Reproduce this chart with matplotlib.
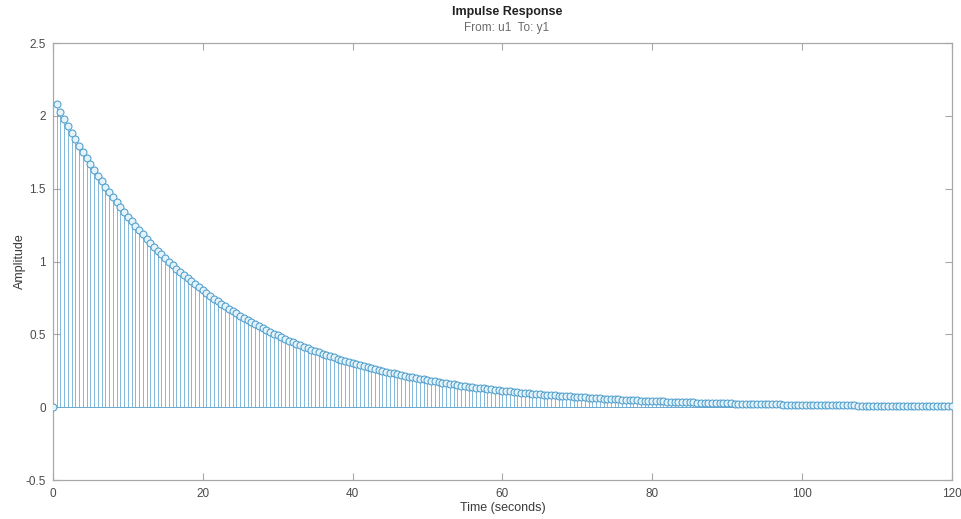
import numpy as np
import matplotlib
matplotlib.use("Agg")
import matplotlib.pyplot as plt

sample_time = 0.5
amplitude = [
    0.0,
    2.079, 2.029, 1.980, 1.932, 1.885, 1.840, 1.796, 1.752, 1.710, 1.669,
    1.629, 1.590, 1.551, 1.514, 1.477, 1.442, 1.407, 1.373, 1.340, 1.308,
    1.276, 1.246, 1.216, 1.186, 1.158, 1.130, 1.103, 1.076, 1.050, 1.025,
    1.000, 0.976, 0.952, 0.930, 0.907, 0.885, 0.864, 0.843, 0.823, 0.803,
    0.784, 0.765, 0.746, 0.728, 0.711, 0.694, 0.677, 0.661, 0.645, 0.629,
    0.614, 0.599, 0.585, 0.571, 0.557, 0.544, 0.531, 0.518, 0.505, 0.493,
    0.481, 0.470, 0.458, 0.447, 0.437, 0.426, 0.416, 0.406, 0.396, 0.386,
    0.377, 0.368, 0.359, 0.350, 0.342, 0.334, 0.326, 0.318, 0.310, 0.303,
    0.295, 0.288, 0.281, 0.275, 0.268, 0.262, 0.255, 0.249, 0.243, 0.237,
    0.232, 0.226, 0.220, 0.215, 0.210, 0.205, 0.200, 0.195, 0.191, 0.186,
    0.181, 0.177, 0.173, 0.169, 0.165, 0.161, 0.157, 0.153, 0.149, 0.146,
    0.142, 0.139, 0.135, 0.132, 0.129, 0.126, 0.123, 0.120, 0.117, 0.114,
    0.111, 0.109, 0.106, 0.104, 0.101, 0.099, 0.096, 0.094, 0.092, 0.090,
    0.087, 0.085, 0.083, 0.081, 0.079, 0.077, 0.075, 0.074, 0.072, 0.070,
    0.068, 0.067, 0.065, 0.064, 0.062, 0.061, 0.059, 0.058, 0.056, 0.055,
    0.054, 0.052, 0.051, 0.050, 0.049, 0.048, 0.046, 0.045, 0.044, 0.043,
    0.042, 0.041, 0.040, 0.039, 0.038, 0.037, 0.036, 0.035, 0.035, 0.034,
    0.033, 0.032, 0.031, 0.031, 0.030, 0.029, 0.028, 0.028, 0.027, 0.026,
    0.026, 0.025, 0.025, 0.024, 0.023, 0.023, 0.022, 0.022, 0.021, 0.021,
    0.020, 0.020, 0.019, 0.019, 0.018, 0.018, 0.018, 0.017, 0.017, 0.016,
    0.016, 0.015, 0.015, 0.015, 0.014, 0.014, 0.014, 0.013, 0.013, 0.013,
    0.012, 0.012, 0.012, 0.012, 0.011, 0.011, 0.011, 0.010, 0.010, 0.010,
    0.010, 0.010, 0.009, 0.009, 0.009, 0.009, 0.008, 0.008, 0.008, 0.008,
    0.008, 0.007, 0.007, 0.007, 0.007, 0.007, 0.007, 0.006, 0.006, 0.006,
]
x_ticks = [0, 20, 40, 60, 80, 100, 120]
y_ticks = [-0.5, 0, 0.5, 1, 1.5, 2, 2.5]
y_tick_labels = ["-0.5", "0", "0.5", "1", "1.5", "2", "2.5"]
title = "Impulse Response"
subtitle = "From: u1  To: y1"
x_label = "Time (seconds)"
y_label = "Amplitude"

t = np.arange(len(amplitude)) * sample_time
amp = np.array(amplitude)

plt.rcParams['font.family'] = ['Liberation Sans', 'DejaVu Sans']

fig = plt.figure(figsize=(9.61, 5.19), dpi=100)
ax = fig.add_axes([0.055, 0.075, 0.9355, 0.842])

ax.vlines(t, 0, amp, colors='#4a98c8', linewidth=0.6, alpha=0.8, zorder=2)
ax.axhline(0, color='#6aa8d0', linewidth=0.7, zorder=2)
ax.plot(t, amp, linestyle='none', marker='o', markersize=5.0,
        markerfacecolor='#e4f3fa', markeredgecolor='#4e9ecc',
        markeredgewidth=0.75, zorder=3)

ax.set_xlim(0, 120)
ax.set_ylim(-0.5, 2.5)
ax.set_xticks(x_ticks)
ax.set_yticks(y_ticks)
ax.set_yticklabels(y_tick_labels)

axis_gray = '#a8a8a8'
for s in ax.spines.values():
    s.set_color(axis_gray)
    s.set_linewidth(0.9)
ax.tick_params(direction='in', length=5, width=0.8, color=axis_gray,
               labelcolor='#4a4a4a', labelsize=8.5,
               top=True, right=True)
ax.tick_params(axis='x', pad=6)
ax.tick_params(axis='y', pad=5)

ax.set_xlabel(x_label, fontsize=9, color='#3a3a3a', labelpad=1)
ax.set_ylabel(y_label, fontsize=9, color='#3a3a3a', labelpad=0)

fig.text(0.5275, 0.976, title, ha='center', va='center',
         fontsize=9, fontweight='bold', color='#222222')
fig.text(0.5275, 0.947, subtitle, ha='center', va='center',
         fontsize=8.5, color='#6a6a6a')

fig.savefig('out.png', dpi=100, facecolor='white')
